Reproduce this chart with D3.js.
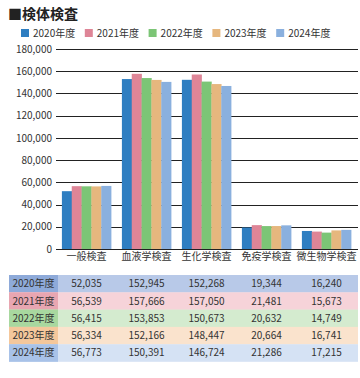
<!DOCTYPE html>
<html><head><meta charset="utf-8">
<script src="https://cdn.jsdelivr.net/npm/d3@7"></script>
<style>body{margin:0;background:#fff;font-family:"Noto Sans CJK JP","Noto Sans",sans-serif;}</style>
</head><body><svg id="c" width="360" height="378"></svg>
<script>
const categories = ["一般検査","血液学検査","生化学検査","免疫学検査","微生物学検査"];
const years = ["2020年度","2021年度","2022年度","2023年度","2024年度"];
const v2020 = [52035,152945,152268,19344,16240];
const v2021 = [56539,157666,157050,21481,15673];
const v2022 = [56415,153853,150673,20632,14749];
const v2023 = [56334,152166,148447,20664,16741];
const v2024 = [56773,150391,146724,21286,17215];
const series = [v2020,v2021,v2022,v2023,v2024];
const yTicks = [0,20000,40000,60000,80000,100000,120000,140000,160000,180000];
const barColors = ["#2e7ec1","#de8597","#7cc576","#e6b77e","#8ab0de"];
const headColors = ["#8eaad9","#e8a6b1","#a8d89f","#f4c79b","#a8c2e8"];
const rowColors = ["#b8c9e8","#f6d3d9","#d4ebcf","#fae3cd","#d5e2f4"];

const svg = d3.select("#c");
const fmt = d3.format(",");
const txt = "#333";

svg.append("text").attr("x",8).attr("y",19).attr("font-size",14).attr("font-weight","bold")
  .attr("fill","#222").text("■検体検査");

// legend
const lg = svg.append("g");
years.forEach((y,i)=>{
  const lx = 21 + i*63.8;
  lg.append("rect").attr("x",lx).attr("y",29).attr("width",8).attr("height",8).attr("fill",barColors[i]);
  lg.append("text").attr("x",lx+12).attr("y",37).attr("font-size",10).attr("fill",txt).text(y);
});

const x = d3.scaleBand().domain(categories).range([56.5,356.5]).paddingInner(0.18).paddingOuter(0.09);
const x1 = d3.scaleBand().domain(years).range([0,x.bandwidth()]);
const yS = d3.scaleLinear().domain([0,180000]).range([249,49]);

// grid
svg.append("g").selectAll("line").data(yTicks.slice(1)).join("line")
  .attr("x1",56).attr("x2",358).attr("y1",d=>Math.round(yS(d))+0.5).attr("y2",d=>Math.round(yS(d))+0.5)
  .attr("stroke","#222").attr("stroke-width",1);

// y axis labels
const ya = svg.append("g").attr("transform","translate(56,0)")
  .call(d3.axisLeft(yS).tickValues(yTicks).tickFormat(fmt).tickSize(0).tickPadding(4));
ya.select(".domain").remove();
ya.selectAll("text").attr("font-size",10).attr("fill",txt).attr("font-family","'Noto Sans CJK JP','Noto Sans',sans-serif");

// bars
categories.forEach((c,ci)=>{
  const g = svg.append("g").attr("transform",`translate(${x(c)},0)`);
  g.selectAll("rect").data(series.map((s,si)=>({y:years[si],v:s[ci],i:si}))).join("rect")
    .attr("x",d=>x1(d.y)).attr("width",x1.bandwidth()+0.3)
    .attr("y",d=>yS(d.v)).attr("height",d=>yS(0)-yS(d.v)).attr("fill",d=>barColors[d.i]);
});

// x axis
const xa = svg.append("g").attr("transform","translate(0,249)")
  .call(d3.axisBottom(x).tickSize(0).tickPadding(4));
xa.select(".domain").attr("d","M56,0.5H358").attr("stroke","#222");
xa.selectAll("text").attr("font-size",10).attr("fill",txt).attr("font-family","'Noto Sans CJK JP','Noto Sans',sans-serif");

// table
const rowH = 17.3, tTop = 275;
years.forEach((y,i)=>{
  const ry = tTop + i*rowH;
  svg.append("rect").attr("x",9).attr("y",ry).attr("width",349).attr("height",rowH+0.3).attr("fill",rowColors[i]);
  svg.append("rect").attr("x",9).attr("y",ry).attr("width",49).attr("height",rowH+0.3).attr("fill",headColors[i]);
  svg.append("text").attr("x",33.5).attr("y",ry+rowH/2+3.6).attr("text-anchor","middle")
    .attr("font-size",10).attr("fill",txt).text(y);
  categories.forEach((c,ci)=>{
    svg.append("text").attr("x",x(c)+x.bandwidth()/2).attr("y",ry+rowH/2+3.6).attr("text-anchor","middle")
      .attr("font-size",10).attr("fill",txt).text(fmt(series[i][ci]));
  });
});
</script></body></html>
